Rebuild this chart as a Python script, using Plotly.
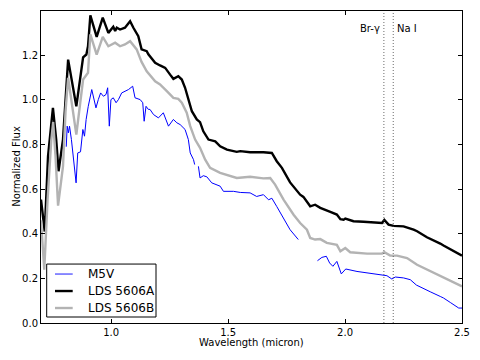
import plotly.graph_objects as go

# ---------------- data ----------------
a_wave = [0.700, 0.716, 0.730, 0.751, 0.765, 0.775, 0.794, 0.816, 0.851, 0.880,
          0.894, 0.901, 0.911, 0.938, 0.964, 0.988, 1.009, 1.017, 1.024, 1.038,
          1.059, 1.081, 1.095, 1.116, 1.130, 1.152, 1.159, 1.188, 1.209, 1.231,
          1.252, 1.266, 1.287, 1.302, 1.316, 1.330, 1.345, 1.366, 1.380, 1.394,
          1.416, 1.445, 1.466, 1.495, 1.537, 1.552, 1.594, 1.651, 1.687, 1.708,
          1.730, 1.765, 1.794, 1.808, 1.822, 1.851, 1.872, 1.894, 1.937, 1.965,
          1.980, 1.994, 2.001, 2.022, 2.036, 2.079, 2.120, 2.158, 2.168, 2.186,
          2.207, 2.250, 2.293, 2.308, 2.350, 2.364, 2.407, 2.421, 2.464, 2.500]
a_flux = [0.553, 0.410, 0.747, 0.964, 0.822, 0.680, 0.822, 1.180, 0.971, 1.190,
          1.203, 1.240, 1.378, 1.282, 1.368, 1.300, 1.327, 1.308, 1.323, 1.315,
          1.323, 1.352, 1.323, 1.285, 1.226, 1.218, 1.204, 1.166, 1.154, 1.143,
          1.113, 1.094, 1.106, 1.091, 1.054, 1.001, 0.949, 0.912, 0.900, 0.859,
          0.822, 0.814, 0.792, 0.777, 0.767, 0.770, 0.765, 0.765, 0.762, 0.725,
          0.695, 0.630, 0.590, 0.575, 0.565, 0.523, 0.530, 0.516, 0.498, 0.486,
          0.465, 0.463, 0.468, 0.461, 0.456, 0.454, 0.450, 0.448, 0.462, 0.441,
          0.435, 0.433, 0.418, 0.411, 0.384, 0.378, 0.356, 0.347, 0.321, 0.302]

b_wave = [0.700, 0.708, 0.714, 0.728, 0.744, 0.752, 0.762, 0.773, 0.794, 0.805,
          0.816, 0.851, 0.880, 0.901, 0.911, 0.938, 0.964, 0.988, 1.017, 1.038,
          1.059, 1.081, 1.109, 1.130, 1.152, 1.188, 1.209, 1.238, 1.266, 1.287,
          1.302, 1.323, 1.338, 1.359, 1.380, 1.402, 1.423, 1.466, 1.509, 1.537,
          1.594, 1.651, 1.680, 1.701, 1.737, 1.751, 1.780, 1.808, 1.837, 1.851,
          1.872, 1.894, 1.922, 1.965, 1.980, 2.001, 2.022, 2.094, 2.158, 2.168,
          2.193, 2.222, 2.265, 2.308, 2.350, 2.407, 2.464, 2.500]
b_flux = [0.460, 0.330, 0.239, 0.550, 0.820, 0.900, 0.750, 0.526, 0.702, 0.950,
          1.099, 0.844, 1.091, 1.121, 1.293, 1.203, 1.282, 1.240, 1.256, 1.240,
          1.248, 1.263, 1.226, 1.170, 1.128, 1.083, 1.069, 1.039, 1.009, 1.004,
          0.987, 0.942, 0.882, 0.822, 0.785, 0.732, 0.695, 0.673, 0.657, 0.650,
          0.655, 0.648, 0.650, 0.620, 0.553, 0.530, 0.485, 0.448, 0.418, 0.381,
          0.374, 0.376, 0.359, 0.350, 0.321, 0.336, 0.317, 0.311, 0.311, 0.317,
          0.302, 0.302, 0.291, 0.261, 0.239, 0.209, 0.182, 0.164]

m_wave = [0.808, 0.812, 0.817, 0.822, 0.830, 0.840, 0.850, 0.857, 0.869, 0.879,
          0.886, 0.893, 0.902, 0.917, 0.927, 0.935, 0.945, 0.955, 0.967, 0.978,
          0.985, 0.992, 0.999, 1.009, 1.021, 1.031, 1.045, 1.059, 1.074, 1.092,
          1.102, 1.124, 1.135, 1.141, 1.149, 1.159, 1.166, 1.181, 1.202, 1.223,
          1.245, 1.266, 1.281, 1.295, 1.316, 1.330, 1.338, 1.352, 1.357, None,
          1.373, 1.380, 1.394, 1.409, 1.430, 1.466, 1.480, 1.523, 1.552, 1.594,
          1.622, 1.651, 1.673, 1.687, 1.708, 1.737, 1.765, 1.800, None,
          1.882, 1.901, 1.920, 1.934, 1.948, 1.965, 1.984, 2.003, 2.051, 2.122,
          2.179, 2.200, 2.215, 2.250, 2.279, 2.305, 2.329, 2.364, 2.407, 2.421,
          2.450, 2.486, 2.500]
m_flux = [0.790, 0.882, 0.852, 0.882, 0.822, 0.732, 0.628, 0.762, 0.767, 0.867,
          0.837, 0.912, 0.971, 1.046, 1.001, 0.964, 1.001, 1.031, 1.016, 1.024,
          1.054, 0.882, 1.001, 1.009, 0.987, 1.001, 1.031, 1.039, 1.046, 1.061,
          1.009, 1.001, 0.987, 0.904, 0.971, 0.957, 0.957, 0.934, 0.919, 0.942,
          0.882, 0.912, 0.897, 0.889, 0.867, 0.822, 0.762, 0.732, 0.710, None,
          0.702, 0.650, 0.660, 0.655, 0.628, 0.613, 0.590, 0.590, 0.585, 0.583,
          0.567, 0.575, 0.552, 0.559, 0.522, 0.470, 0.418, 0.374, None,
          0.279, 0.294, 0.299, 0.269, 0.254, 0.276, 0.220, 0.242, 0.231, 0.221,
          0.212, 0.197, 0.206, 0.202, 0.194, 0.170, 0.157, 0.140, 0.119, 0.112,
          0.092, 0.067, 0.067]

series_names = ["M5V", "LDS 5606A", "LDS 5606B"]
series_colors = ["#0000ff", "#000000", "#b3b3b3"]
series_widths = [1.0, 2.4, 2.4]

line_names = ["Br-\u03b3", "Na I"]
line_waves = [2.166, 2.206]

x_ticks = [1.0, 1.5, 2.0, 2.5]
y_ticks = [0.0, 0.2, 0.4, 0.6, 0.8, 1.0, 1.2]

FONT = "DejaVu Sans"

fig = go.Figure()
for wv, fl, nm, col, w in zip([m_wave, a_wave, b_wave], [m_flux, a_flux, b_flux],
                              series_names, series_colors, series_widths):
    fig.add_trace(go.Scatter(x=wv, y=fl, mode="lines", name=nm,
                             line=dict(color=col, width=w), connectgaps=False,
                             showlegend=False))

# vertical dotted lines + labels
for lw in line_waves:
    fig.add_shape(type="line", xref="x", yref="paper", x0=lw, x1=lw, y0=0, y1=1,
                  line=dict(color="#444444", width=0.8, dash="1px,2px"), layer="above")
fig.add_annotation(x=line_waves[0], y=1.32, xref="x", yref="y", text=line_names[0],
                   showarrow=False, xanchor="right", xshift=-2,
                   font=dict(family=FONT, size=10, color="black"))
fig.add_annotation(x=line_waves[1], y=1.32, xref="x", yref="y", text=line_names[1],
                   showarrow=False, xanchor="left", xshift=2,
                   font=dict(family=FONT, size=10, color="black"))

# custom legend (matplotlib-style box in lower left)
L, R, T, B = 41.0, 462.0, 11.0, 323.3
def px(x):
    return (x - L) / (R - L)
def py(y):
    return (B - y) / (B - T)

fig.add_shape(type="rect", xref="paper", yref="paper",
              x0=px(46.7), x1=px(156), y0=py(317.3), y1=py(264.3),
              line=dict(color="black", width=1), fillcolor="white", layer="above")
for i, (nm, col, w) in enumerate(zip(series_names, series_colors, series_widths)):
    yy = py(274.3 + i * 17.0)
    fig.add_shape(type="line", xref="paper", yref="paper", x0=px(55), x1=px(72.7),
                  y0=yy, y1=yy, line=dict(color=col, width=w if w > 1 else 1.5),
                  layer="above", opacity=0.6 if i == 0 else 1)
    fig.add_annotation(xref="paper", yref="paper", x=px(86), y=yy, text=nm,
                       showarrow=False, xanchor="left", yanchor="middle",
                       font=dict(family=FONT, size=12, color="black"))

# axis titles
fig.add_annotation(xref="paper", yref="paper", x=0.5, y=py(342.7), text="Wavelength (micron)",
                   showarrow=False, xanchor="center", yanchor="middle",
                   font=dict(family=FONT, size=10, color="black"))
fig.add_annotation(xref="paper", yref="paper", x=px(17), y=py(167), text="Normalized Flux",
                   showarrow=False, textangle=-90, xanchor="center", yanchor="middle",
                   font=dict(family=FONT, size=10, color="black"))

axis_common = dict(showline=True, linecolor="black", linewidth=1, mirror="ticks",
                   ticks="inside", ticklen=4, tickwidth=1, tickcolor="black",
                   showgrid=False, zeroline=False,
                   tickfont=dict(family=FONT, size=10, color="black"))
fig.update_xaxes(range=[0.7, 2.5], tickvals=x_ticks,
                 ticktext=[f"{v:.1f}" for v in x_ticks], **axis_common)
fig.update_yaxes(range=[0.0, 1.398], tickvals=y_ticks,
                 ticktext=[f"{v:.1f}" for v in y_ticks], **axis_common)

fig.update_layout(width=480, height=360, margin=dict(l=41, r=18, t=11, b=37),
                  paper_bgcolor="white", plot_bgcolor="white", showlegend=False,
                  font=dict(family=FONT, size=10, color="black"))

fig.write_html("out.html", config={"displayModeBar": False, "staticPlot": True},
               post_script="document.body.style.margin='0';document.body.style.padding='0';"
                           "document.documentElement.style.overflow='hidden';")
